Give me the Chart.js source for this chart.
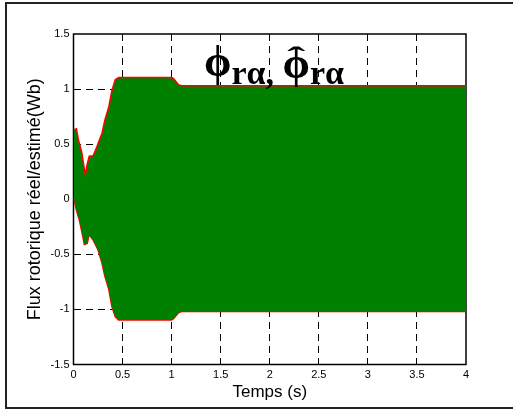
<!DOCTYPE html>
<html>
<head>
<meta charset="utf-8">
<script src="https://cdn.jsdelivr.net/npm/chart.js@4/dist/chart.umd.min.js"></script>
<style>
  html, body { margin: 0; padding: 0; background: #fff; }
  #wrap { width: 513px; height: 410px; position: relative; }
</style>
</head>
<body>
<div id="wrap"><canvas id="fluxChart"></canvas></div>
<script>
// Envelope of the rotor flux (alpha axis), real and estimated, in Wb
const tUpper = [0, 0.03, 0.05, 0.085, 0.12, 0.135, 0.16, 0.2, 0.24, 0.29, 0.32, 0.36, 0.39, 0.425, 0.46, 1.0, 1.02, 1.07, 1.1, 4.0];
const vUpper = [0.63, 0.64, 0.54, 0.42, 0.22, 0.3, 0.39, 0.395, 0.48, 0.6, 0.72, 0.84, 0.98, 1.085, 1.105, 1.105, 1.095, 1.04, 1.03, 1.03];
const tLower = [0, 0.03, 0.06, 0.095, 0.11, 0.14, 0.16, 0.2, 0.25, 0.29, 0.32, 0.36, 0.39, 0.425, 0.46, 1.0, 1.02, 1.07, 1.1, 4.0];
const vLower = [0.02, -0.1, -0.19, -0.34, -0.41, -0.4, -0.32, -0.37, -0.46, -0.58, -0.7, -0.82, -0.97, -1.065, -1.095, -1.095, -1.085, -1.03, -1.02, -1.02];

const xTicks = [0, 0.5, 1, 1.5, 2, 2.5, 3, 3.5, 4];
const yTicks = [-1.5, -1, -0.5, 0, 0.5, 1, 1.5];

const toPoints = (ts, vs) => ts.map((t, i) => ({ x: t, y: vs[i] }));

const RED = '#ff0000';
const GREEN = '#008000';
const PHI = '\u03D5';

// ===============================
// Frame, axes box and title
// ===============================
const figurePlugin = {
    id: 'figure',
    beforeDraw(chart) {
        const c = chart.ctx;
        c.save();
        c.fillStyle = '#fff';
        c.fillRect(0, 0, chart.width, chart.height);
        c.strokeStyle = '#222';
        c.lineWidth = 2;
        c.strokeRect(6, 3, chart.width + 10, 405);
        c.restore();
    },
    beforeDatasetsDraw(chart) {
        const a = chart.chartArea;
        const c = chart.ctx;
        c.save();
        c.strokeStyle = '#000';
        c.lineWidth = 1.5;
        c.strokeRect(a.left, a.top, a.right - a.left, a.bottom - a.top);
        c.restore();
    },
    afterDatasetsDraw(chart) {
        const c = chart.ctx;
        const phiFont = 'bold 44px "Liberation Serif"';
        const subFont = 'bold 34px "Liberation Serif"';
        c.save();
        c.fillStyle = '#000';
        c.textBaseline = 'alphabetic';
        let x = 204;
        c.font = phiFont;
        const phiW = c.measureText(PHI).width;
        c.fillText(PHI, x, 76);
        x += phiW;
        c.font = subFont;
        c.fillText('r\u03B1,', x, 84);
        x += c.measureText('r\u03B1, ').width;
        c.font = phiFont;
        c.fillText(PHI, x, 78);
        // hat over the estimated flux symbol
        c.save();
        c.font = 'bold 30px "Liberation Serif"';
        const hw = c.measureText('\u02C6').width;
        c.translate(x + phiW / 2, 67);
        c.scale(1.8, 1);
        c.fillText('\u02C6', -hw / 2, 0);
        c.restore();
        x += phiW;
        c.font = subFont;
        c.fillText('r\u03B1', x, 84);
        c.restore();
    }
};

const dashed = (ctx) => {
    const n = ctx.scale.ticks.length;
    return (ctx.index === 0 || ctx.index === n - 1) ? 'rgba(0,0,0,0)' : '#000';
};

new Chart(document.getElementById('fluxChart'), {
    type: 'line',
    data: {
        datasets: [
            {
                label: 'upper',
                data: toPoints(tUpper, vUpper),
                borderColor: RED,
                borderWidth: 1.5,
                backgroundColor: GREEN,
                fill: '+1',
                pointRadius: 0,
                tension: 0
            },
            {
                label: 'lower',
                data: toPoints(tLower, vLower),
                borderColor: RED,
                borderWidth: 1.5,
                fill: false,
                pointRadius: 0,
                tension: 0
            }
        ]
    },
    options: {
        responsive: true,
        maintainAspectRatio: false,
        animation: false,
        layout: { padding: { top: 34, right: 47, bottom: 0, left: 0 } },
        plugins: {
            legend: { display: false },
            tooltip: { enabled: false }
        },
        scales: {
            x: {
                type: 'linear',
                min: 0,
                max: 4,
                afterBuildTicks: (s) => { s.ticks = xTicks.map(v => ({ value: v })); },
                afterFit: (s) => { s.height = 45.5; },
                border: { display: false, dash: [7, 5] },
                grid: { color: dashed, lineWidth: 1, drawTicks: false },
                ticks: {
                    padding: 4,
                    color: '#000',
                    font: { family: '"Liberation Sans", Arial', size: 11 },
                    maxRotation: 0,
                    callback: (v) => String(v)
                },
                title: {
                    display: true,
                    text: 'Temps (s)',
                    color: '#000',
                    font: { family: '"Liberation Sans", Arial', size: 17 },
                    padding: { top: 0, bottom: 7 }
                }
            },
            y: {
                type: 'linear',
                min: -1.5,
                max: 1.5,
                afterBuildTicks: (s) => { s.ticks = yTicks.map(v => ({ value: v })); },
                afterFit: (s) => { s.width = 73.5; },
                border: { display: false, dash: [7, 5] },
                grid: { color: dashed, lineWidth: 1, drawTicks: false },
                ticks: {
                    padding: 4,
                    color: '#000',
                    font: { family: '"Liberation Sans", Arial', size: 11 },
                    callback: (v) => String(v)
                },
                title: {
                    display: true,
                    text: 'Flux rotorique réel/estimé(Wb)',
                    color: '#000',
                    font: { family: '"Liberation Sans", Arial', size: 18 },
                    padding: { top: 24, bottom: 0 }
                }
            }
        }
    },
    plugins: [figurePlugin]
});
</script>
</body>
</html>
